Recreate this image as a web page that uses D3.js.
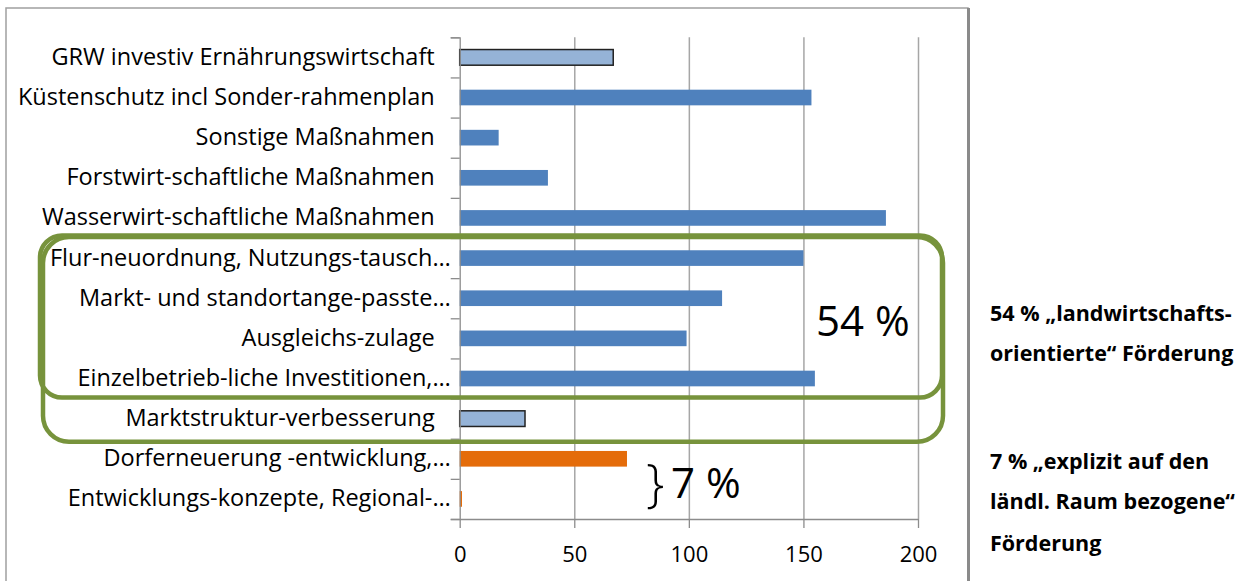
<!DOCTYPE html>
<html>
<head>
<meta charset="utf-8">
<script src="https://cdn.jsdelivr.net/npm/d3@7"></script>
<style>
	body{ margin:0; background:#fff; }
	text{ font-family:"Open Sans", sans-serif; fill:#000; }
	.axis path, .axis line{ stroke:#8c8c8c; stroke-width:1.3; }
	.grid line{ stroke:#a6a6a6; stroke-width:1.5; }
	.grid path{ display:none; }
</style>
</head>
<body>
<div id="chart"></div>
<script>

// categories, top to bottom
const categories = [
	"GRW investiv Ernährungswirtschaft",
	"Küstenschutz incl Sonder-rahmenplan",
	"Sonstige Maßnahmen",
	"Forstwirt-schaftliche Maßnahmen",
	"Wasserwirt-schaftliche Maßnahmen",
	"Flur-neuordnung, Nutzungs-tausch…",
	"Markt- und standortange-passte…",
	"Ausgleichs-zulage",
	"Einzelbetrieb-liche Investitionen,…",
	"Marktstruktur-verbesserung",
	"Dorferneuerung -entwicklung,…",
	"Entwicklungs-konzepte, Regional-…"
];

const values = [67, 153.5, 17, 38.5, 186, 150, 114.5, 99, 155, 28.5, 73, 1];

// which kind of funding each bar belongs to
const kinds = ["market", "other", "other", "other", "other", "other", "other", "other", "other", "market", "rural", "rural"];

const xTicks = [0, 50, 100, 150, 200];

const notes = [
	["54 % „landwirtschafts-", "orientierte“ Förderung"],
	["7 % „explizit auf den", "ländl. Raum bezogene“", "Förderung"]
];

const width = 1254, height = 581;
const plotLeft = 459.7, plotRight = 918, plotTop = 37.3, plotBottom = 519;

const colors = { market:"#95b3d7", other:"#4f81bd", rural:"#e46c0a" };

const svg = d3.select("#chart")
		.append("svg")
		.attr("width", width)
		.attr("height", height);

// frame
svg.append("rect")
	.attr("x", 6).attr("y", 8)
	.attr("width", 962).attr("height", 600)
	.attr("fill", "none")
	.attr("stroke", "#a0a0a0")
	.attr("stroke-width", 1.5);
svg.append("line")
	.attr("x1", 968.5).attr("x2", 968.5)
	.attr("y1", 8).attr("y2", height)
	.attr("stroke", "#8a8a8a")
	.attr("stroke-width", 3);

const x = d3.scaleLinear().domain([0, 200]).range([plotLeft, plotRight]);
const y = d3.scaleBand().domain(categories).range([plotTop, plotBottom]).paddingInner(0.61).paddingOuter(0.305);
const yEdge = d3.scaleLinear().domain([0, categories.length]).range([plotTop, plotBottom]);

// gridlines
svg.append("g")
	.attr("class", "grid")
	.attr("transform", "translate(0," + plotBottom + ")")
	.call(d3.axisBottom(x).tickValues(xTicks.slice(1)).tickSize(-(plotBottom - plotTop)).tickFormat(""));

// bars
svg.append("g")
	.selectAll("rect")
	.data(values)
	.join("rect")
		.attr("x", x(0))
		.attr("y", (d, i) => y(categories[i]))
		.attr("width", d => x(d) - x(0))
		.attr("height", y.bandwidth())
		.attr("fill", (d, i) => colors[kinds[i]])
		.attr("stroke", (d, i) => kinds[i] == "market" ? "#222" : "none")
		.attr("stroke-width", 1.5);

// y axis: boundary ticks
svg.append("g")
	.attr("class", "axis")
	.attr("transform", "translate(" + plotLeft + ",0)")
	.call(d3.axisLeft(yEdge).tickValues(d3.range(categories.length + 1)).tickSize(9).tickFormat(""));

// y labels (truncated ones run a bit closer to the axis, like excel does)
const yLab = svg.append("g")
	.attr("transform", "translate(" + plotLeft + ",0)")
	.call(d3.axisLeft(y).tickSize(0).tickPadding(25));
yLab.select(".domain").remove();
yLab.selectAll("text")
	.style("font-size", "23.5px")
	.style("font-family", "'Open Sans', sans-serif")
	.attr("fill", "#1a1a1a")
	.attr("dx", d => d.endsWith("…") ? 16 : 0);

// x axis
const xAx = svg.append("g")
	.attr("class", "axis")
	.attr("transform", "translate(0," + plotBottom + ")")
	.call(d3.axisBottom(x).tickValues(xTicks).tickSize(9).tickPadding(18).tickSizeOuter(0));
xAx.selectAll("text")
	.style("font-size", "22px")
	.style("font-family", "'Open Sans', sans-serif")
	.attr("fill", "#1a1a1a");

// green group frames
const green = "#77933c";
svg.append("rect")
	.attr("x", 43).attr("y", yEdge(5) - 1)
	.attr("width", 900).attr("height", yEdge(10) + 3 - (yEdge(5) - 1))
	.attr("rx", 26)
	.attr("fill", "none").attr("stroke", green).attr("stroke-width", 4.5);
svg.append("rect")
	.attr("x", 40).attr("y", yEdge(5) - 2.5)
	.attr("width", 902).attr("height", yEdge(9) - 1 - (yEdge(5) - 2.5))
	.attr("rx", 22)
	.attr("fill", "none").attr("stroke", green).attr("stroke-width", 4.5);

// percentage annotations
svg.append("text")
	.attr("x", 816).attr("y", 336)
	.style("font-size", "42px")
	.text("54 %");
svg.append("text")
	.attr("x", 646).attr("y", 501)
	.style("font-size", "52px")
	.style("font-weight", 300)
	.text("}");
svg.append("text")
	.attr("x", 671).attr("y", 498)
	.style("font-size", "42px")
	.text("7 %");

// side notes
const noteRows = [[321, 361], [469, 509, 551]];
notes.forEach((lines, k) => {
	svg.append("text")
		.style("font-size", "21.5px")
		.style("font-weight", "bold")
		.selectAll("tspan")
		.data(lines)
		.join("tspan")
			.attr("x", 990)
			.attr("y", (d, i) => noteRows[k][i])
			.text(d => d);
});

</script>
</body>
</html>
